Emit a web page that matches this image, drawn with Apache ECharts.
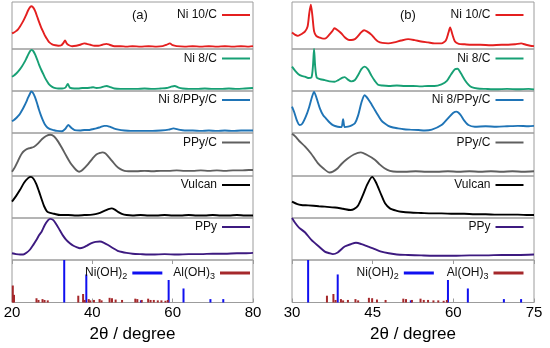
<!DOCTYPE html>
<html><head><meta charset="utf-8">
<script src="https://cdn.jsdelivr.net/npm/echarts@6/dist/echarts.min.js"></script>
<style>html,body{margin:0;padding:0;background:#fff}#c{width:550px;height:348px}</style>
</head><body><div id="c"></div>
<script>
// ---------- data ----------
const sampleNames = ['Ni 10/C', 'Ni 8/C', 'Ni 8/PPy/C', 'PPy/C', 'Vulcan', 'PPy'];
const panelLabels = ['(a)', '(b)'];
const xTicksA = [20, 40, 60, 80];
const xTicksB = [30, 45, 60, 75];
const axisTitle = '2θ / degree';

// panel (a) patterns: [2θ, relative intensity in % of the row]
const aNi10C = [[20,33],[20.5,35],[21,38],[21.5,42],[22,48],[22.5,55],[23,63],[23.5,72],[24,82],[24.5,89],[24.9,91],[25.3,88],[25.8,80],[26.3,68],[26.8,56],[27.3,45],[27.8,36],[28.3,27],[28.8,20],[29.3,14],[30,10],[30.8,8],[31.5,7],[32.3,8],[32.8,13],[33.2,18],[33.6,12],[34.2,8],[35,6],[36,7],[37,9],[38,12],[38.6,11],[39.5,9],[40.5,7],[41.5,7],[42.5,9],[43.5,11],[44.3,9],[45.5,6],[47,6],[48.5,5],[50,6],[52,5],[54,6],[56,5],[57.5,6],[58.5,9],[59.3,12],[60,8],[61,6],[63,5],[65,6],[67,5],[69,6],[71,5],[73,6],[75,5],[77,6],[79,5],[80,6]];
const aNi8C = [[20,34],[20.5,37],[21,41],[21.5,46],[22,52],[22.5,59],[23,67],[23.5,76],[24,86],[24.5,95],[24.9,98],[25.3,95],[25.8,86],[26.3,74],[26.8,61],[27.3,50],[27.8,40],[28.3,30],[28.8,22],[29.3,15],[30,10],[30.8,7],[31.5,6],[32.5,6],[33.3,8],[33.9,17],[34.4,8],[35.5,6],[36.5,6],[37.5,7],[38.5,7],[39.5,8],[40.2,9],[41,7],[42,8],[43,11],[43.6,12],[44.3,10],[45.5,6],[47,5],[49,5],[51,5],[53,6],[55,5],[57,6],[58.5,7],[59.5,10],[60.5,12],[61.5,8],[62.5,6],[64,5],[66,5],[68,6],[70,5],[72,5],[74,6],[76,5],[78,6],[80,7]];
const aNi8PPyC = [[20,28],[20.5,31],[21,35],[21.5,40],[22,46],[22.5,54],[23,63],[23.5,73],[24,84],[24.5,94],[24.8,99],[25.2,96],[25.7,86],[26.2,72],[26.7,56],[27.2,42],[27.7,30],[28.2,20],[28.8,13],[29.5,9],[30.3,7],[31.2,5],[32.4,4],[33.3,10],[34,19],[34.8,12],[35.6,7],[36.9,6],[38,7],[39,7],[40,9],[41,11],[42,14],[43,17],[43.6,17],[44.3,15],[45.3,11],[46.5,8],[48,6],[49.5,5],[51,5],[53,5],[55,5],[57,6],[59,8],[60.2,11],[61.5,8],[63,6],[65,6],[67,5],[69,6],[71,5],[73,6],[75,5],[77,6],[80,6]];
const aPPyC = [[20,10],[20.7,20],[21.5,35],[22,45],[22.5,53],[23,58],[23.8,63],[24.5,65],[25.5,68],[26.5,76],[27.5,86],[28.5,93],[29.5,96],[30.5,92],[31.5,80],[32.5,64],[33.5,47],[34.5,31],[35.5,19],[36.2,12],[36.7,10],[37.3,12],[38.2,20],[39,28],[40,40],[41,50],[42,54],[42.5,55],[43.2,53],[44,45],[45,34],[46,23],[47,16],[48,12],[49,11],[51,11],[53,12],[55,11],[57,12],[59,12],[61,13],[63,12],[65,12],[67,13],[69,12],[71,13],[73,12],[75,13],[77,13],[79,14],[80,14]];
const aVulcan = [[20,39],[21,52],[22,67],[23,84],[24,95],[24.7,98],[25.3,94],[26,82],[26.7,64],[27.4,44],[28,28],[28.7,16],[29.5,12],[30.5,10],[32,7],[34,7],[36,6],[38,7],[40,8],[41.5,11],[43,17],[44,21],[44.8,23],[45.6,20],[46.5,14],[47.5,9],[48.5,7],[50,6],[52,7],[54,6],[56,6],[58,7],[60,6],[62,6],[64,7],[66,6],[68,6],[70,7],[72,6],[74,6],[76,7],[78,6],[80,6]];
const aPPy = [[20,16],[21,14],[22,13],[22.8,13],[23.6,17],[24.5,25],[25.3,36],[26.1,48],[26.8,60],[27.4,68],[28.2,84],[29,95],[29.5,98],[30.3,95],[31.1,84],[31.9,71],[32.7,58],[33.5,48],[34.4,40],[35.3,34],[36.2,30],[36.9,28],[37.8,30],[38.8,35],[39.8,40],[40.8,43],[41.9,44],[42.9,41],[44,35],[45.2,28],[46.3,22],[47.4,19],[48.5,17],[50,15],[52,14],[55,13],[58,14],[61,13],[64,14],[67,14],[70,15],[73,15],[76,16],[78,16],[80,17]];

// panel (b) patterns
const bNi10C = [[30,35],[30.6,30],[31.1,28],[31.8,32],[32.4,37],[32.9,48],[33.2,75],[33.5,94],[33.8,70],[34.1,38],[34.5,28],[35.2,24],[35.8,22],[36.3,23],[36.9,30],[37.5,38],[37.9,44],[38.5,40],[39.2,33],[39.8,25],[40.4,20],[41,19],[41.7,21],[42.3,28],[42.9,36],[43.4,40],[44,37],[44.8,30],[45.4,22],[46,16],[46.8,13],[47.9,12],[49,14],[50.3,18],[51.6,21],[52.8,19],[54,16],[55.3,14],[56.5,12],[57.8,12],[58.6,18],[59.1,35],[59.4,46],[59.8,32],[60.3,16],[61,11],[62.1,10],[63.4,9],[65,9],[67,8],[69,9],[70.2,9],[71.5,10],[72.6,12],[73.5,9],[74.3,7],[75,6]];
const bNi8C = [[30,58],[30.6,48],[31.2,40],[31.8,36],[32.4,34],[33,31],[33.6,32],[33.9,60],[34.1,100],[34.3,60],[34.6,32],[35.3,28],[36.1,26],[37,23],[37.9,22],[38.6,26],[39.4,32],[39.8,33],[40.4,27],[41,23],[41.7,26],[42.3,38],[42.9,52],[43.5,58],[44.1,52],[44.8,36],[45.4,24],[46,15],[46.8,13],[48,12],[49.5,13],[51,12],[52.5,12],[54,11],[55.3,12],[56.5,12],[57.8,16],[58.8,24],[59.6,40],[60.3,52],[60.8,53],[61.4,42],[62.1,27],[62.8,15],[63.4,9],[64.5,6],[66,5],[68,4],[70,5],[72,4],[74,5],[75,4]];
const bNi8PPyC = [[30,63],[30.4,50],[30.9,30],[31.4,19],[31.9,22],[32.6,40],[33.2,62],[33.7,85],[34.1,98],[34.6,82],[35.2,58],[35.8,42],[36.3,35],[37,25],[37.7,18],[38.5,15],[39.2,14],[39.5,33],[39.8,14],[40.4,15],[41.1,18],[41.7,23],[42.3,42],[42.9,72],[43.5,90],[44.1,82],[44.8,68],[45.4,55],[46,42],[46.6,30],[47.2,23],[47.9,17],[48.8,13],[49.7,11],[50.8,9],[52,8],[53.5,7],[54.7,6],[56,8],[57.8,19],[59,35],[60,48],[60.6,51],[61.3,44],[62,30],[62.8,19],[64,15],[66,16],[68,15],[70,16],[72,17],[74,16],[75,17]];
const bPPyC = [[30,98],[30.6,92],[31.3,82],[32.4,69],[33.5,53],[34.8,30],[35.8,18],[37,8],[37.6,10],[38.5,18],[39.2,28],[40.3,40],[41.5,50],[42.8,55],[43.8,50],[45.4,38],[46.3,27],[47.2,18],[48.2,12],[49.5,10],[51,10],[53,11],[55,10],[57,10],[59,11],[61,10],[63,11],[65,10],[67,11],[69,10],[71,11],[73,10],[75,11]];
const bVulcan = [[30,39],[31,33],[31.7,31],[33,30],[35,28],[36.1,27],[38,25],[39.5,22],[40.9,19],[41.5,21],[42.3,30],[43.2,55],[44,80],[44.9,98],[45.6,85],[46.6,55],[47.3,35],[48.2,23],[49.5,17],[50.3,15],[52,13],[54,12],[56,11],[57.8,11],[60,10],[62,10],[64,9],[66,9],[68,8],[70,8],[72,8],[74,7],[75,7]];
const bPPy = [[30,100],[30.6,88],[31.3,77],[32.4,66],[33.6,48],[35,32],[36.1,20],[37,16],[37.6,14],[38.5,18],[39.8,32],[41,38],[41.9,41],[42.9,38],[44.2,32],[45.4,26],[46.6,20],[48,16],[49.5,13],[51.6,12],[54,11],[57.8,10],[60,10],[63,11],[66,11],[69,12],[72,12],[75,13]];

// reference stick patterns
const refNames = ['Ni(OH)2', 'Al(OH)3'];
const niOH2Pos = [33.0, 38.5, 52.1, 59.0, 62.7, 69.4, 72.6];
const niOH2Int = [100, 66, 5, 53, 33, 8, 8];
const alOH3Pos = [20.2, 20.5, 26.1, 26.6, 27.6, 28.1, 28.9, 36.5, 37.7, 38.1, 39.1, 39.5, 40.4, 41.8, 42.3, 44.3, 44.9, 45.8, 47.4, 50.7, 51.2, 52.3, 53.9, 54.5, 55.3, 56.3, 57.2, 58.2, 58.8];
const alOH3Int = [40, 18, 10, 6, 8, 6, 5, 16, 20, 6, 8, 5, 6, 8, 5, 11, 10, 7, 6, 9, 8, 6, 9, 6, 6, 5, 5, 4, 6];

// ---------- layout / style ----------
const FONT = 'Liberation Sans, Arial, Helvetica, sans-serif';
const lineColors = ['#e41f1f', '#17a074', '#1f74b6', '#5f5f5f', '#000000', '#3d1a80'];
const stickColors = ['#1010f0', '#a5282b'];
const panels = [
  {left: 12, width: 241, min: 20, max: 80, interval: 20, ticks: xTicksA, curves: [aNi10C, aNi8C, aNi8PPyC, aPPyC, aVulcan, aPPy], legendRight: 300, labelLeft: 132, refGap: 11},
  {left: 292, width: 242, min: 30, max: 75, interval: 15, ticks: xTicksB, curves: [bNi10C, bNi8C, bNi8PPyC, bPPyC, bVulcan, bPPy], legendRight: 26.5, labelLeft: 400, refGap: 13}
];
const rowTops = [2, 49, 91, 133, 176, 218, 260];
const rowHeights = [47, 42, 42, 43, 42, 42, 42.5];
const legendCenters = [16, 59.5, 101, 143.5, 186, 228];

const grid = [], xAxis = [], yAxis = [], series = [], legend = [], title = [];
panels.forEach((p, pi) => {
  for (let r = 0; r < 7; r++) {
    const gi = grid.length;
    grid.push({left: p.left, width: p.width, top: rowTops[r], height: rowHeights[r], show: true,
      borderColor: '#9c9c9c', borderWidth: 1, backgroundColor: 'transparent', containLabel: false});
    const isBottom = r === 6;
    const xi = xAxis.length;
    xAxis.push({
      gridIndex: gi, type: 'value', min: p.min, max: p.max, interval: p.interval,
      show: isBottom, position: 'bottom',
      axisLine: {show: false}, splitLine: {show: false},
      axisTick: {show: true, inside: true, length: 4, lineStyle: {color: '#9c9c9c'}},
      axisLabel: {show: true, fontSize: 15, color: '#000', margin: 3, fontFamily: FONT,
        customValues: p.ticks},
      name: isBottom ? axisTitle : '', nameLocation: 'middle', nameGap: 23,
      nameTextStyle: {fontSize: 17, color: '#000', fontFamily: FONT}
    });
    if (isBottom) {
      xAxis.push({gridIndex: gi, type: 'value', min: p.min, max: p.max, interval: p.interval,
        position: 'top', show: true, axisLine: {show: false}, splitLine: {show: false},
        axisLabel: {show: false},
        axisTick: {show: true, inside: true, length: 4, lineStyle: {color: '#9c9c9c'}}});
    }
    const yi = yAxis.length;
    yAxis.push({gridIndex: gi, type: 'value', min: 0, max: 100, show: false});
    if (!isBottom) {
      series.push({
        name: sampleNames[r], type: 'line', xAxisIndex: xi, yAxisIndex: yi,
        data: p.curves[r], symbol: 'none', showSymbol: false, smooth: 0.25,
        lineStyle: {width: 1.9, color: lineColors[r]}, itemStyle: {color: lineColors[r]},
        clip: true, silent: true
      });
      legend.push({
        data: [sampleNames[r]], right: p.legendRight, top: legendCenters[r] - 7,
        padding: 0, align: 'right', icon: 'rect', itemWidth: 28, itemHeight: 2,
        selectedMode: false,
        textStyle: {fontSize: 12, color: '#111', fontFamily: FONT}
      });
    } else {
      series.push({
        name: refNames[0], type: 'bar', xAxisIndex: xi, yAxisIndex: yi,
        data: niOH2Pos.map((x, i) => [x, niOH2Int[i]]), barWidth: 2, barGap: '-100%',
        itemStyle: {color: stickColors[0]}, silent: true
      });
      series.push({
        name: refNames[1], type: 'bar', xAxisIndex: xi, yAxisIndex: yi,
        data: alOH3Pos.map((x, i) => [x, alOH3Int[i]]), barWidth: 2, barGap: '-100%',
        itemStyle: {color: stickColors[1]}, silent: true
      });
      legend.push({
        data: refNames, right: p.legendRight, top: 267, padding: 0, align: 'right',
        icon: 'rect', itemWidth: 30, itemHeight: 3, itemGap: p.refGap, selectedMode: false,
        formatter: n => n === refNames[0] ? '{t|Ni(OH)}{s|2}' : '{t|Al(OH)}{s|3}',
        textStyle: {fontSize: 12, color: '#111', fontFamily: FONT,
          rich: {t: {fontSize: 12, fontFamily: FONT, color: '#111'},
                 s: {fontSize: 9, fontFamily: FONT, color: '#111', padding: [7, 0, 0, 0]}}}
      });
    }
  }
  title.push({text: panelLabels[pi], left: p.labelLeft, top: 9, padding: 0,
    textStyle: {fontSize: 13, fontWeight: 'normal', color: '#111', fontFamily: FONT}});
});

const chart = echarts.init(document.getElementById('c'), null, {renderer: 'canvas'});
chart.setOption({
  animation: false,
  backgroundColor: '#fff',
  textStyle: {fontFamily: FONT},
  title, grid, xAxis, yAxis, series, legend
});
</script></body></html>
